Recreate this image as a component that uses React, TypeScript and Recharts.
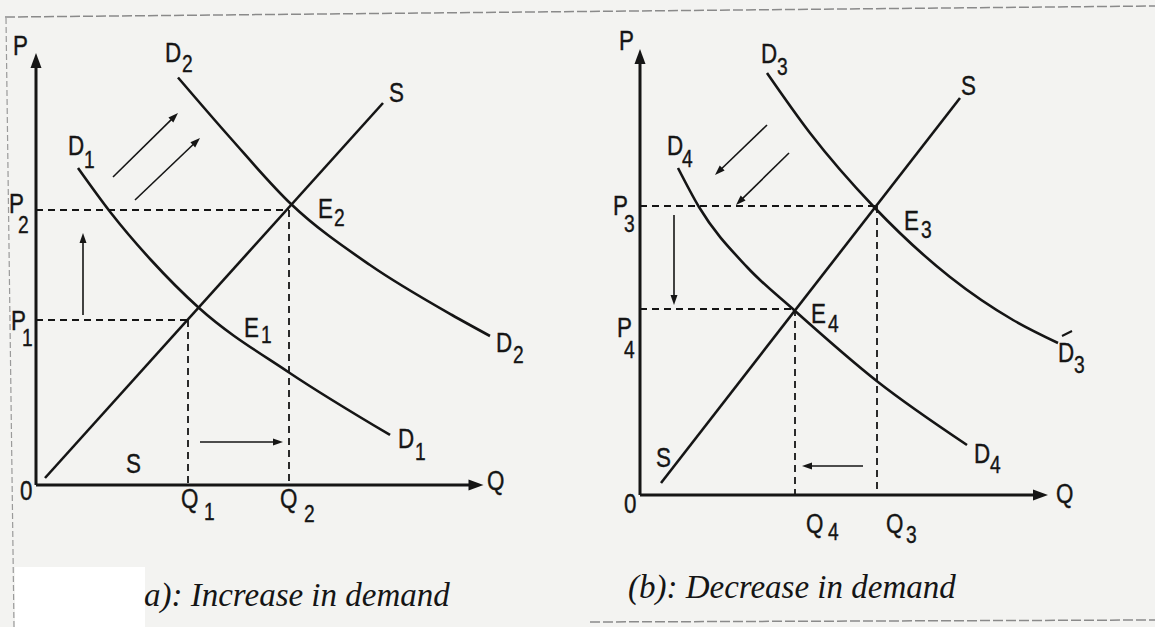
import { ComposedChart, Line, XAxis, YAxis, ReferenceLine, ReferenceDot } from "recharts";

// ---- panel (a): increase in demand ----
const supplyA = [{ q: 1.8, p: 1.4 }, { q: 69.4, p: 76.4 }];
const demandD1 = [
  { q: 8.4, p: 63.4 }, { q: 15, p: 54.4 }, { q: 23, p: 45 },
  { q: 32.5, p: 35.5 }, { q: 50.6, p: 22.5 }, { q: 70.8, p: 10 },
];
const demandD2 = [
  { q: 28.4, p: 81.5 }, { q: 38.8, p: 69.5 }, { q: 51, p: 56.2 },
  { q: 66.8, p: 44 }, { q: 83.2, p: 34 }, { q: 90.8, p: 29.8 },
];
const eqA = [{ q: 30.4, p: 33 }, { q: 50.6, p: 55 }];
const axesA = [
  [{ q: 0, p: 0 }, { q: 0, p: 86.4 }],
  [{ q: 0, p: 0 }, { q: 89.5, p: 0 }],
];
const shiftsA = [
  [{ q: 15.4, p: 61.6 }, { q: 28.4, p: 74.4 }],
  [{ q: 19.8, p: 57 }, { q: 32.8, p: 69.4 }],
  [{ q: 9.4, p: 34 }, { q: 9.4, p: 50.4 }],
  [{ q: 32.8, p: 8.6 }, { q: 49.4, p: 8.6 }],
];

// ---- panel (b): decrease in demand ----
const supplyB = [{ q: 4.2, p: 2.4 }, { q: 64, p: 79.4 }];
const demandD3 = [
  { q: 25.4, p: 84.4 }, { q: 34, p: 72.4 }, { q: 46.8, p: 57.6 },
  { q: 62, p: 43.6 }, { q: 74.6, p: 35 }, { q: 83.6, p: 30.4 },
];
const demandD4 = [
  { q: 7.6, p: 65.4 }, { q: 11.8, p: 57.6 }, { q: 21.4, p: 45.6 },
  { q: 30.8, p: 37 }, { q: 47.6, p: 22.6 }, { q: 65.4, p: 10 },
];
const eqB = [{ q: 47.4, p: 57.8 }, { q: 31, p: 37.2 }];
const axesB = [
  [{ q: 0, p: 0 }, { q: 0, p: 89.2 }],
  [{ q: 0, p: 0 }, { q: 81.6, p: 0 }],
];
const shiftsB = [
  [{ q: 25.4, p: 74 }, { q: 15, p: 64 }],
  [{ q: 29.8, p: 68.4 }, { q: 19.2, p: 58 }],
  [{ q: 6.8, p: 56 }, { q: 6.8, p: 38 }],
  [{ q: 44.6, p: 5.8 }, { q: 32.4, p: 5.8 }],
];

// label text: main letter + subscript
const labelsA = [
  ["P", ""], ["D", "2"], ["S", ""], ["D", "1"], ["P", "2"], ["E", "2"], ["P", "1"],
  ["E", "1"], ["D", "2"], ["D", "1"], ["S", ""], ["0", ""], ["Q", "1"], ["Q", "2"], ["Q", ""],
];
const labelsB = [
  ["P", ""], ["D", "3"], ["S", ""], ["D", "4"], ["P", "3"], ["E", "3"], ["P", "4"],
  ["E", "4"], ["D", "3"], ["D", "4"], ["S", ""], ["0", ""], ["Q", "4"], ["Q", "3"], ["Q", ""],
];
// anchor (data units), subscript offset (px), accent flag
const spotsA = [
  [-4.6, 86, 0, 0], [25.8, 84.6, 17, 10], [70.6, 76.6, 0, 0], [6.4, 66, 16, 13],
  [-5.4, 54.4, 9, 20], [56.4, 53.4, 16, 8], [-5, 31, 11, 16], [41.6, 29.6, 17, 6],
  [92, 26.6, 17, 11], [72.4, 7.4, 17, 12], [18, 2.4, 0, 0], [-3.2, -3, 0, 0],
  [29, -4.6, 23, 12], [48.8, -4.6, 24, 14], [90.2, -1, 0, 0],
];
const spotsB = [
  [-4.2, 89, 0, 0], [24.2, 86.4, 16, 12], [64.2, 80, 0, 0], [5.4, 68, 15, 12],
  [-5.4, 56, 11, 17], [52.8, 53, 17, 8], [-4.6, 31.6, 7, 21], [34.2, 34.4, 17, 9],
  [83.6, 26.6, 16, 11, 1], [66.8, 6.4, 16, 10], [3.2, 5.6, 0, 0], [-3.2, -3.6, 0, 0],
  [33.2, -7.6, 22, 7], [49.2, -7.6, 20, 10], [83.2, -1.6, 0, 0],
];

const INK = "#151515";
const SANS = "'Liberation Sans', Arial, sans-serif";
const SERIF = "'Liberation Serif', 'Times New Roman', serif";

function arrowShape(head: number, half: number, sw: number) {
  return (p: any) => {
    const { x1, y1, x2, y2 } = p;
    const a = Math.atan2(y2 - y1, x2 - x1);
    const bx = x2 - head * Math.cos(a);
    const by = y2 - head * Math.sin(a);
    const nx = -Math.sin(a) * half;
    const ny = Math.cos(a) * half;
    return (
      <g>
        <line x1={x1} y1={y1} x2={bx + Math.cos(a) * 2} y2={by + Math.sin(a) * 2} stroke={INK} strokeWidth={sw} />
        <polygon points={`${x2},${y2} ${bx + nx},${by + ny} ${bx - nx},${by - ny}`} fill={INK} />
      </g>
    );
  };
}

// condensed sans letters, as in the printed figure
function Tag({ cx, cy, t, s, sdx, sdy, accent }: any) {
  return (
    <g fontFamily={SANS} fill={INK} stroke={INK} strokeWidth={0.4}>
      <text transform={`translate(${cx},${cy}) scale(0.8,1)`} fontSize={28}>{t}</text>
      {s ? <text transform={`translate(${cx + sdx},${cy + sdy}) scale(0.8,1)`} fontSize={24}>{s}</text> : null}
      {accent ? <line x1={cx + 4} y1={cy - 26} x2={cx + 14} y2={cy - 31} stroke={INK} strokeWidth={2} /> : null}
    </g>
  );
}

function Panel({ width, height, xDomain, yDomain, supply, demands, eq, axes, shifts, labels, spots }: any) {
  const [e1, e2] = eq;
  const dashes = [
    [{ q: 0, p: e1.p }, e1], [e1, { q: e1.q, p: 0 }],
    [{ q: 0, p: e2.p }, e2], [e2, { q: e2.q, p: 0 }],
  ];
  return (
    <ComposedChart width={width} height={height} margin={{ top: 0, right: 0, bottom: 0, left: 0 }}>
      <XAxis type="number" dataKey="q" domain={xDomain} hide allowDataOverflow />
      <YAxis type="number" dataKey="p" domain={yDomain} hide allowDataOverflow />
      {dashes.map((seg: any, i: number) => (
        <ReferenceLine key={`d${i}`} segment={[{ x: seg[0].q, y: seg[0].p }, { x: seg[1].q, y: seg[1].p }]}
          stroke={INK} strokeWidth={1.8} strokeDasharray="7 5" ifOverflow="visible" />
      ))}
      <Line data={supply} dataKey="p" type="linear" stroke={INK} strokeWidth={2.6}
        dot={false} activeDot={false} isAnimationActive={false} />
      {demands.map((d: any, i: number) => (
        <Line key={`c${i}`} data={d} dataKey="p" type="monotone" stroke={INK} strokeWidth={2.6}
          dot={false} activeDot={false} isAnimationActive={false} />
      ))}
      {axes.map((seg: any, i: number) => (
        <ReferenceLine key={`a${i}`} segment={[{ x: seg[0].q, y: seg[0].p }, { x: seg[1].q, y: seg[1].p }]}
          ifOverflow="visible" shape={arrowShape(15, 5.5, 3)} />
      ))}
      {shifts.map((seg: any, i: number) => (
        <ReferenceLine key={`s${i}`} segment={[{ x: seg[0].q, y: seg[0].p }, { x: seg[1].q, y: seg[1].p }]}
          ifOverflow="visible" shape={arrowShape(10, 3.5, 1.6)} />
      ))}
      {labels.map((l: string[], i: number) => (
        <ReferenceDot key={`l${i}`} x={spots[i][0]} y={spots[i][1]} r={0} ifOverflow="visible"
          shape={(p: any) => (
            <Tag cx={p.cx} cy={p.cy} t={l[0]} s={l[1]} sdx={spots[i][2]} sdy={spots[i][3]} accent={spots[i][4]} />
          )} />
      ))}
    </ComposedChart>
  );
}

export default function App() {
  return (
    <div style={{ position: "absolute", left: 0, top: 0, width: 1155, height: 627, background: "#f3f3f1", overflow: "hidden" }}>
      <svg width={1155} height={627} style={{ position: "absolute", left: 0, top: 0 }}>
        <rect x={15} y={567} width={130} height={60} fill="#ffffff" />
        <line x1={5} y1={17} x2={1155} y2={6} stroke="#8a8a8a" strokeWidth={1.5} strokeDasharray="10 3" />
        <line x1={6} y1={18} x2={14} y2={627} stroke="#9a9a9a" strokeWidth={1.2} strokeDasharray="6 3" />
        <line x1={590} y1={622} x2={1155} y2={620} stroke="#8a8a8a" strokeWidth={1.5} strokeDasharray="10 3" />
        <text x={144} y={606} fontFamily={SERIF} fontStyle="italic" fontSize={33} fill={INK}>
          a): Increase in demand
        </text>
        <text x={628} y={598} fontFamily={SERIF} fontStyle="italic" fontSize={33} fill={INK}>
          (b): Decrease in demand
        </text>
      </svg>
      <div style={{ position: "absolute", left: 0, top: 0 }}>
        <Panel width={580} height={560} xDomain={[-7.2, 108.8]} yDomain={[-15, 97]}
          supply={supplyA} demands={[demandD1, demandD2]} eq={eqA} axes={axesA} shifts={shiftsA}
          labels={labelsA} spots={spotsA} />
      </div>
      <div style={{ position: "absolute", left: 580, top: 0 }}>
        <Panel width={575} height={560} xDomain={[-12, 103]} yDomain={[-13, 99]}
          supply={supplyB} demands={[demandD3, demandD4]} eq={eqB} axes={axesB} shifts={shiftsB}
          labels={labelsB} spots={spotsB} />
      </div>
    </div>
  );
}
